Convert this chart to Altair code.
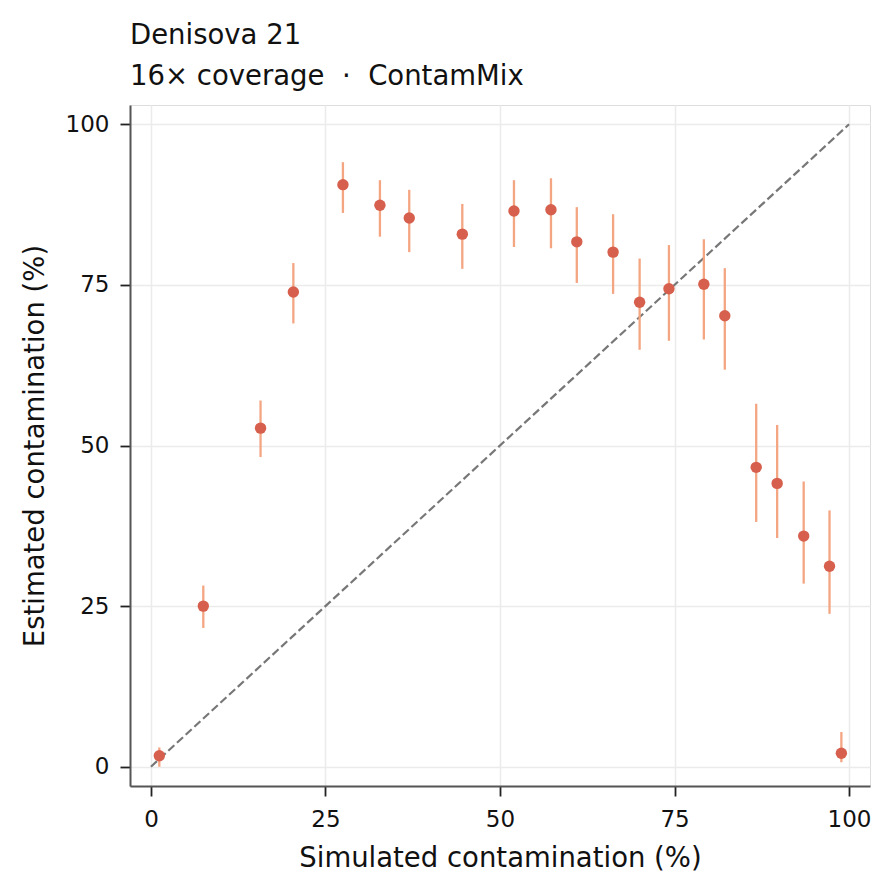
import altair as alt
import pandas as pd

# Data
simulated = [1.2, 7.5, 15.7, 20.4, 27.5, 32.8, 37.0, 44.6, 52.0, 57.3, 61.0,
             66.2, 70.0, 74.2, 79.2, 82.2, 86.7, 89.7, 93.5, 97.2, 98.9]
estimated = [1.7, 25.0, 52.7, 73.9, 90.6, 87.4, 85.4, 82.9, 86.5, 86.7, 81.7,
             80.1, 72.3, 74.4, 75.1, 70.2, 46.6, 44.1, 35.9, 31.2, 2.1]
lower = [0.0, 21.6, 48.2, 69.0, 86.2, 82.5, 80.1, 77.5, 80.9, 80.7, 75.3,
         73.6, 64.9, 66.3, 66.5, 61.8, 38.1, 35.6, 28.5, 23.8, 0.7]
upper = [3.0, 28.2, 57.0, 78.4, 94.1, 91.3, 89.8, 87.6, 91.3, 91.6, 87.1,
         86.0, 79.1, 81.2, 82.1, 77.6, 56.5, 53.2, 44.4, 39.9, 5.4]
tick_values = [0, 25, 50, 75, 100]
diag = [0, 100]

df = pd.DataFrame({"sim": simulated, "est": estimated, "lo": lower, "hi": upper})
ddf = pd.DataFrame({"a": diag, "b": diag})

FONT = "DejaVu Sans"
xscale = alt.Scale(domain=[-3, 103], nice=False, zero=False)
yscale = alt.Scale(domain=[-3, 103], nice=False, zero=False)

common = dict(values=tick_values, grid=True, gridColor="#ebebeb", gridWidth=1.5,
              domainColor="#555555", domainWidth=2, tickColor="#222222",
              tickWidth=1.8, tickSize=10, labelFontSize=23, labelFont=FONT,
              labelColor="#111111", titleFontSize=27.5, titleFont=FONT,
              titleFontWeight="normal", titleColor="#111111")

xaxis = alt.Axis(title="Simulated contamination (%)", labelPadding=12,
                 titlePadding=13, **common)
yaxis = alt.Axis(title="Estimated contamination (%)", labelPadding=11,
                 titlePadding=16, **common)

diag_line = alt.Chart(ddf).mark_line(
    color="#777777", strokeWidth=2.2, strokeDash=[8.2, 3.6]
).encode(
    x=alt.X("a:Q", scale=xscale, axis=xaxis),
    y=alt.Y("b:Q", scale=yscale, axis=yaxis),
)

bars = alt.Chart(df).mark_rule(color="#f4a582", strokeWidth=2.3).encode(
    x=alt.X("sim:Q", scale=xscale),
    y=alt.Y("lo:Q", scale=yscale),
    y2="hi:Q",
)

points = alt.Chart(df).mark_circle(color="#d6604d", opacity=1, size=130).encode(
    x=alt.X("sim:Q", scale=xscale),
    y=alt.Y("est:Q", scale=yscale),
)

chart = alt.layer(diag_line, bars, points).properties(
    width=740,
    height=681,
    title=alt.TitleParams(
        text="Denisova 21",
        subtitle="16× coverage\u00a0\u00a0·\u00a0\u00a0ContamMix",
        anchor="start",
        frame="group",
        font=FONT,
        fontSize=27.5,
        fontWeight="normal",
        color="#111111",
        subtitleFont=FONT,
        subtitleFontSize=27.5,
        subtitleColor="#111111",
        subtitlePadding=13.5,
        offset=15,
    ),
    autosize=alt.AutoSizeParams(type="none"),
    padding={"left": 122, "top": 97, "right": 16, "bottom": 99},
).configure_view(stroke=None).configure(background="white")

chart.save("out.html", embed_options={"renderer": "svg", "actions": False})
